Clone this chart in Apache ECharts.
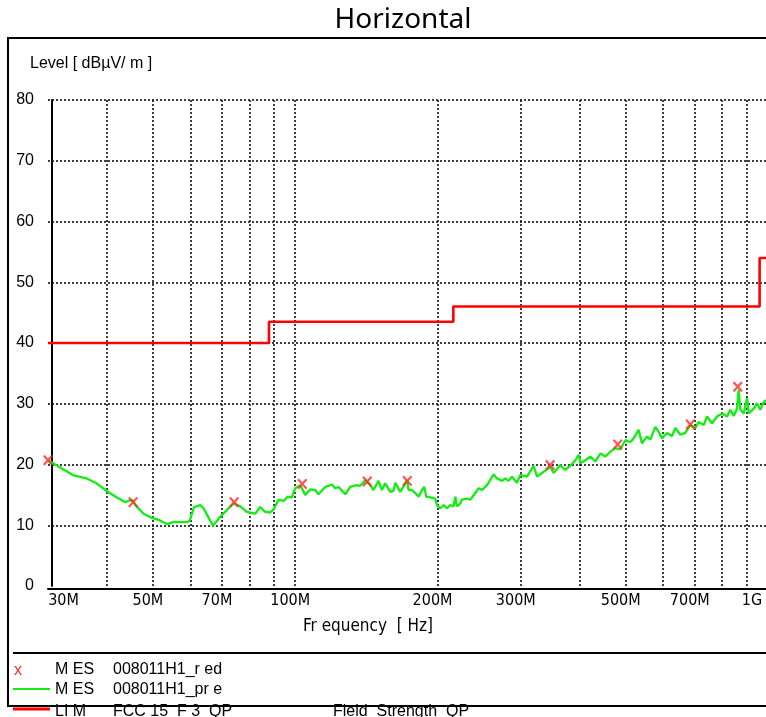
<!DOCTYPE html>
<html>
<head>
<meta charset="UTF-8">
<title>Horizontal</title>
<script src="https://cdn.jsdelivr.net/npm/echarts@6/dist/echarts.min.js"></script>
<style>
  html, body { margin: 0; padding: 0; background: #fff; }
  #chart { width: 766px; height: 717px; }
</style>
</head>
<body>
<div id="chart"></div>
<script>
// pre-scan trace, MHz / dBuV/m
const preFreq = [30, 34.0, 36.2, 38.0, 40.0, 41.9, 43.7, 45.1, 46.2, 47.8,
  49.8, 51.4, 53.5, 55.3, 59.0, 59.8, 61.1, 63.0, 64.0, 67.0,
  69.4, 71.7, 74.0, 76.5, 79.0, 82.3, 84.3, 86.4, 88.5, 90.0,
  92.2, 94.5, 96.3, 98.4, 100, 102.5, 105.0, 107.6, 110.2, 112.0,
  115.7, 119.6, 121.5, 123.5, 127.6, 130.7, 135.0, 137.2, 140.6, 144.1,
  146.4, 150.0, 152.5, 155.0, 158.9, 161.5, 162.8, 166.8, 172.4, 173.7,
  176.6, 179.5, 182.4, 185.4, 187.5, 189.3, 193.1, 197.8, 199.5, 202.7,
  206.0, 209.4, 212.8, 216.3, 218.1, 219.9, 223.4, 225.3, 230.8, 234.6,
  240.4, 244.3, 248.4, 254.5, 262.8, 267.2, 273.8, 278.2, 282.7, 287.4,
  294.5, 299.3, 309.3, 319.4, 324.7, 335.4, 346.5, 352.1, 363.8, 372.7,
  381.9, 391.4, 397.7, 400.9, 410.8, 420.9, 431.3, 442.0, 452.9, 463.9,
  475.4, 487.1, 499.2, 511.5, 519.7, 532.5, 541.4, 554.8, 563.8, 577.6,
  587.0, 596.8, 611.6, 626.7, 636.9, 652.4, 668.5, 685.0, 702.0, 713.4,
  731.1, 743.2, 761.5, 780.3, 799.6, 819.3, 832.5, 846.0, 860.2, 866.9,
  874.1, 888.4, 903.2, 910.3, 932.8, 948.2, 963.6, 979.3, 992.2, 1000];
const preLevel = [20.7, 18.2, 17.7, 16.9, 15.6, 14.6, 13.8, 14.2, 13.1, 11.9,
  11.2, 10.9, 10.2, 10.5, 10.5, 10.7, 13.0, 13.3, 12.8, 9.9,
  11.4, 12.5, 13.6, 13.1, 12.2, 11.9, 13.0, 12.2, 12.1, 12.6,
  14.2, 14.0, 14.7, 14.6, 16.1, 16.6, 15.0, 15.9, 15.8, 15.1,
  16.3, 16.7, 16.1, 16.3, 15.1, 16.3, 16.6, 16.5, 17.4, 16.6,
  15.8, 17.3, 15.8, 16.9, 15.5, 15.7, 17.0, 15.5, 17.4, 15.8,
  15.8, 15.3, 14.7, 15.8, 16.3, 14.7, 14.6, 14.4, 13.3, 12.8,
  13.3, 12.8, 13.3, 13.1, 14.7, 13.1, 13.6, 14.2, 14.4, 14.2,
  15.3, 16.1, 15.8, 16.6, 18.4, 17.7, 17.3, 17.7, 17.3, 18.0,
  17.0, 18.3, 18.0, 19.8, 18.0, 18.8, 19.6, 18.6, 19.9, 19.1,
  19.8, 20.7, 21.6, 20.2, 20.7, 21.3, 20.5, 21.8, 21.3, 22.1,
  22.7, 22.5, 24.0, 23.7, 24.3, 25.7, 23.5, 24.6, 24.1, 26.2,
  25.4, 24.3, 25.2, 24.7, 26.0, 24.9, 25.2, 26.5, 26.0, 27.0,
  26.5, 27.9, 26.8, 27.9, 28.4, 27.9, 29.0, 28.0, 29.2, 32.3,
  29.0, 28.4, 30.9, 28.4, 29.2, 30.1, 29.0, 30.3, 30.6, 30.8];

// final measurement points (red x)
const mesFreq = [30, 45.4, 74.3, 103.5, 142, 172.6, 346, 481, 685, 863];
const mesLevel = [20.7, 13.8, 13.8, 16.8, 17.2, 17.3, 19.9, 23.3, 26.6, 32.8];

// FCC 15 class B 3 m QP limit, step corners
const limFreq = [30, 88, 88, 216, 216, 960, 960, 1000];
const limLevel = [40, 40, 43.5, 43.5, 46, 46, 54, 54];

// axis ticks
const gridFreq = [40, 50, 60, 70, 80, 90, 100, 200, 300, 400, 500, 600, 700, 800, 900];
const tickFreq = [30, 50, 70, 100, 200, 300, 500, 700, 1000];
const tickText = ['30M', '50M', '70M', '100M', '200M', '300M', '500M', '700M', '1G'];

const zip = (a, b) => a.map((v, i) => [v, b[i]]);

const narrow = "'Liberation Sans Narrow', 'DejaVu Sans Condensed', 'Liberation Sans', sans-serif";
const sans = "'Liberation Sans', Arial, sans-serif";
const dotted = { color: '#000', width: 1.5, type: [2, 2] };

const chart = echarts.init(document.getElementById('chart'));

chart.setOption({
  animation: false,
  backgroundColor: '#fff',
  title: {
    text: 'Horizontal',
    left: 398,
    textAlign: 'center',
    top: 1,
    textStyle: { fontFamily: 'Noto Sans', fontSize: 28, fontWeight: 'normal', color: '#000' }
  },
  grid: { left: 48, top: 100, right: -2, bottom: 131, outerBoundsMode: 'none' },
  xAxis: [{
    type: 'log',
    logBase: 10,
    min: 30,
    max: 1000,
    axisLine: { show: false },
    axisTick: { show: false, customValues: gridFreq },
    axisLabel: {
      customValues: tickFreq,
      margin: 7,
      fontFamily: narrow,
      fontSize: 16,
      color: '#000',
      formatter: function (v) {
        let i = 0;
        tickFreq.forEach((t, k) => { if (Math.abs(t - v) < Math.abs(tickFreq[i] - v)) i = k; });
        if (i === 0) return '{first|' + tickText[i] + '}';
        if (i === tickFreq.length - 1) return '{last|' + tickText[i] + '}';
        return '{mid|' + tickText[i] + '}';
      },
      rich: {
        first: { fontFamily: narrow, fontSize: 16, color: '#000', padding: [0, 0, 0, 31] },
        mid: { fontFamily: narrow, fontSize: 16, color: '#000', padding: [0, 10, 0, 0] },
        last: { fontFamily: narrow, fontSize: 16, color: '#000', padding: [0, 32, 0, 0] }
      }
    },
    splitLine: { show: true, lineStyle: dotted }
  }, {
    type: 'log',
    logBase: 10,
    min: 30,
    max: 1000,
    position: 'bottom',
    offset: 3,
    axisLine: { show: true, onZero: false, lineStyle: { color: '#000', width: 2 } },
    axisTick: { show: false },
    axisLabel: { show: false },
    splitLine: { show: false }
  }],
  yAxis: [{
    type: 'value',
    min: 0,
    max: 80,
    interval: 10,
    axisLine: { show: false },
    axisTick: { show: false },
    axisLabel: { margin: 14, fontFamily: sans, fontSize: 16, color: '#000' },
    splitLine: { show: true, showMinLine: false, lineStyle: dotted }
  }, {
    type: 'value',
    min: 0,
    max: 80,
    position: 'left',
    offset: -4,
    axisLine: { show: true, onZero: false, lineStyle: { color: '#000', width: 2 } },
    axisTick: { show: false },
    axisLabel: { show: false },
    splitLine: { show: false }
  }],
  series: [{
    name: 'LIM',
    type: 'line',
    data: zip(limFreq, limLevel),
    showSymbol: false,
    lineStyle: { color: '#ff0000', width: 2.6 },
    z: 3
  }, {
    name: 'MES pre',
    type: 'line',
    data: zip(preFreq, preLevel),
    showSymbol: false,
    lineStyle: { color: '#11ee11', width: 2.3 },
    z: 2
  }, {
    name: 'MES red',
    type: 'scatter',
    data: zip(mesFreq, mesLevel),
    symbol: 'path://M0,1.5 L1.5,0 L5,3.5 L8.5,0 L10,1.5 L6.5,5 L10,8.5 L8.5,10 L5,6.5 L1.5,10 L0,8.5 L3.5,5 Z',
    symbolSize: [10, 11],
    itemStyle: { color: '#ff2a2a' },
    z: 4
  }],
  graphic: [
    { type: 'text', x: 30, y: 64, style: { text: 'Level [ dBµV/ m ]', font: '16px ' + sans, fill: '#000', align: 'left', verticalAlign: 'middle' } },
    { type: 'text', x: 368, y: 627, style: { text: 'Fr equency  [ Hz]', font: '17px ' + narrow, fill: '#000', align: 'center', verticalAlign: 'middle' } },
    // legend
    { type: 'text', x: 18, y: 671, style: { text: 'x', font: '16px ' + sans, fill: '#ff2a2a', align: 'center', verticalAlign: 'middle' } },
    { type: 'text', x: 55, y: 670, style: { text: 'M ES', font: '16px ' + sans, fill: '#000', align: 'left', verticalAlign: 'middle' } },
    { type: 'text', x: 113, y: 670, style: { text: '008011H1_r ed', font: '16px ' + sans, fill: '#000', align: 'left', verticalAlign: 'middle' } },
    { type: 'line', shape: { x1: 13, y1: 689, x2: 50, y2: 689 }, style: { stroke: '#11ee11', lineWidth: 2 } },
    { type: 'text', x: 55, y: 690, style: { text: 'M ES', font: '16px ' + sans, fill: '#000', align: 'left', verticalAlign: 'middle' } },
    { type: 'text', x: 113, y: 690, style: { text: '008011H1_pr e', font: '16px ' + sans, fill: '#000', align: 'left', verticalAlign: 'middle' } },
    { type: 'line', shape: { x1: 13, y1: 709, x2: 50, y2: 709 }, style: { stroke: '#ff0000', lineWidth: 3 } },
    { type: 'text', x: 55, y: 712, style: { text: 'LI M', font: '16px ' + sans, fill: '#000', align: 'left', verticalAlign: 'middle' } },
    { type: 'text', x: 113, y: 712, style: { text: 'FCC 15  F 3  QP', font: '16px ' + sans, fill: '#000', align: 'left', verticalAlign: 'middle' } },
    { type: 'text', x: 333, y: 712, style: { text: 'Field  Strength  QP', font: '16px ' + sans, fill: '#000', align: 'left', verticalAlign: 'middle' } },
    // frame
    { type: 'line', shape: { x1: 13, y1: 653, x2: 770, y2: 653 }, style: { stroke: '#000', lineWidth: 2 } },
    { type: 'rect', shape: { x: 8, y: 38, width: 770, height: 668 }, style: { fill: 'rgba(0,0,0,0)', stroke: '#000', lineWidth: 2 } }
  ]
});
</script>
</body>
</html>
